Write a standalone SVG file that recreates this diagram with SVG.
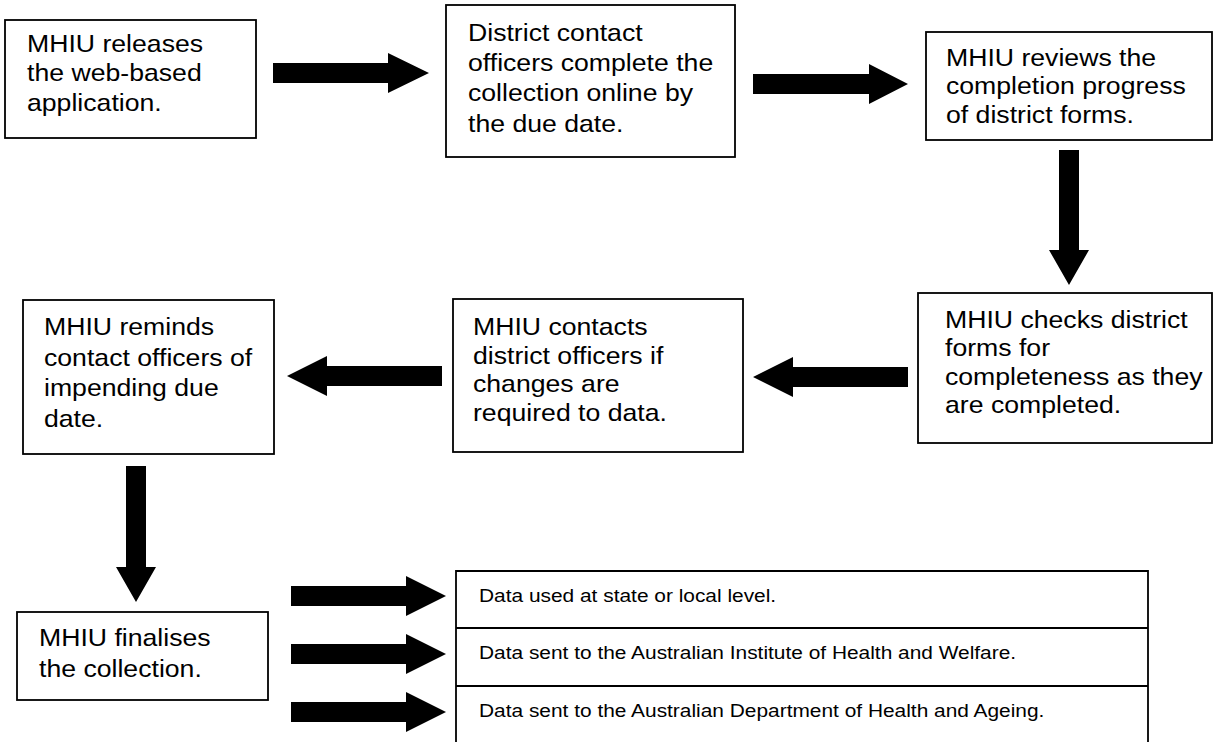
<svg xmlns="http://www.w3.org/2000/svg" width="1214" height="742" viewBox="0 0 1214 742">
<style>
.box{fill:#fff;stroke:#000;stroke-width:1.8}
.t{font-family:"Liberation Sans",Arial,sans-serif;font-size:24px;fill:#000}
.s{font-family:"Liberation Sans",Arial,sans-serif;font-size:18.5px;fill:#000}
.arrow{fill:#000;stroke:none}
</style>
<rect width="1214" height="742" fill="#fff"/>
<g id="connectors">
<polygon class="arrow" points="273,63 388,63 388,53 429,73 388,93 388,83 273,83"/>
<polygon class="arrow" points="753,74 869,74 869,64 908,84 869,104 869,94 753,94"/>
<polygon class="arrow" points="1059,150 1079,150 1079,250 1089,250 1069,285 1049,250 1059,250"/>
<polygon class="arrow" points="908,367 793,367 793,357 753,377 793,397 793,387 908,387"/>
<polygon class="arrow" points="442,366 327,366 327,356 287,376 327,396 327,386 442,386"/>
<polygon class="arrow" points="126,466 146,466 146,567 156,567 136,602 116,567 126,567"/>
<polygon class="arrow" points="291,586 406,586 406,576 446,596 406,616 406,606 291,606"/>
<polygon class="arrow" points="291,644 406,644 406,634 446,654 406,674 406,664 291,664"/>
<polygon class="arrow" points="291,702 406,702 406,692 446,712 406,732 406,722 291,722"/>
</g>
<g id="n1">
<rect class="box" x="5" y="20" width="251" height="118"/>
<text class="t" transform="translate(27,52) scale(1.11,1)"><tspan x="0" y="0">MHIU releases</tspan><tspan x="0" y="29.5">the web-based</tspan><tspan x="0" y="59">application.</tspan></text>
</g>
<g id="n2">
<rect class="box" x="446" y="5" width="289" height="152"/>
<text class="t" transform="translate(468,40.7) scale(1.11,1)"><tspan x="0" y="0">District contact</tspan><tspan x="0" y="30.3">officers complete the</tspan><tspan x="0" y="60.6">collection online by</tspan><tspan x="0" y="90.9">the due date.</tspan></text>
</g>
<g id="n3">
<rect class="box" x="926" y="32" width="286" height="108"/>
<text class="t" transform="translate(946,66) scale(1.11,1)"><tspan x="0" y="0">MHIU reviews the</tspan><tspan x="0" y="28.5">completion progress</tspan><tspan x="0" y="57">of district forms.</tspan></text>
</g>
<g id="n4">
<rect class="box" x="918" y="293" width="294" height="150"/>
<text class="t" transform="translate(945,328) scale(1.11,1)"><tspan x="0" y="0">MHIU checks district</tspan><tspan x="0" y="28.3">forms for</tspan><tspan x="0" y="56.6">completeness as they</tspan><tspan x="0" y="84.9">are completed.</tspan></text>
</g>
<g id="n5">
<rect class="box" x="453" y="299" width="290" height="153"/>
<text class="t" transform="translate(473,335) scale(1.11,1)"><tspan x="0" y="0">MHIU contacts</tspan><tspan x="0" y="28.7">district officers if</tspan><tspan x="0" y="57.4">changes are</tspan><tspan x="0" y="86.1">required to data.</tspan></text>
</g>
<g id="n6">
<rect class="box" x="23" y="300" width="251" height="154"/>
<text class="t" transform="translate(44,335) scale(1.11,1)"><tspan x="0" y="0">MHIU reminds</tspan><tspan x="0" y="30.7">contact officers of</tspan><tspan x="0" y="61.4">impending due</tspan><tspan x="0" y="92.1">date.</tspan></text>
</g>
<g id="n7">
<rect class="box" x="17" y="612" width="251" height="88"/>
<text class="t" transform="translate(39,646) scale(1.11,1)"><tspan x="0" y="0">MHIU finalises</tspan><tspan x="0" y="31">the collection.</tspan></text>
</g>
<g id="n8">
<path d="M456,743 V571 H1148 V743 M456,628 H1148 M456,686 H1148" fill="none" stroke="#000" stroke-width="1.8"/>
<text class="s" transform="translate(479,602) scale(1.13,1)">Data used at state or local level.</text>
<text class="s" transform="translate(479,659) scale(1.13,1)">Data sent to the Australian Institute of Health and Welfare.</text>
<text class="s" transform="translate(479,717) scale(1.13,1)">Data sent to the Australian Department of Health and Ageing.</text>
</g>
</svg>
